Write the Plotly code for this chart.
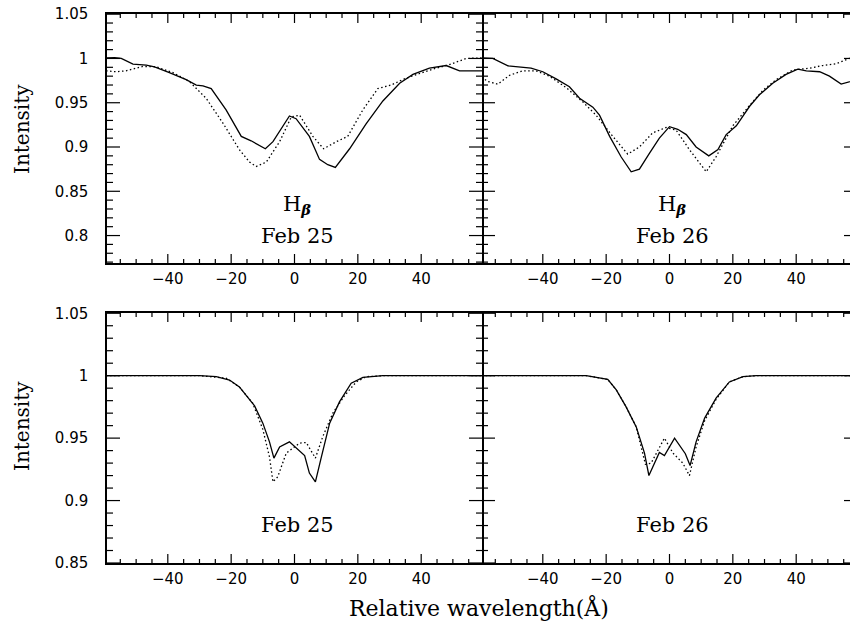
import numpy as np
import plotly.graph_objects as go

# ---------------- data ----------------
# Top-left: H-beta, Feb 25
hb25_solid_x = [-59.5, -56.8, -54.7, -51, -46.8, -44.2, -39.5, -34.2, -31, -28.9, -26.3, -21.6, -16.8,
                -13.7, -9.2, -6.8, -1.6, 0.5, 4.7, 7.9, 10.5, 12.9, 17.4, 22.6, 27.9, 33.2, 37.4, 39.5,
                42.6, 47.9, 52.1, 56.3, 59.5]
hb25_solid_y = [1.0007, 1.001, 1.0, 0.9936, 0.9925, 0.9906, 0.984, 0.976, 0.970, 0.969, 0.966, 0.942, 0.912,
                0.907, 0.898, 0.906, 0.935, 0.932, 0.912, 0.886, 0.880, 0.877, 0.898, 0.926, 0.952, 0.972,
                0.982, 0.985, 0.989, 0.992, 0.986, 0.986, 0.986]
hb25_dot_x = [-59.5, -56.3, -53.2, -47.9, -43.7, -38.4, -33.2, -27.9, -22.6, -17.4, -14.2, -12.1, -8.9,
              -4.7, -1.0, 1.6, 5.8, 9.2, 13.2, 16.8, 21.6, 26.3, 30.5, 34.7, 39.5, 43.7, 48.9, 54.2, 59.5]
hb25_dot_y = [0.986, 0.985, 0.986, 0.991, 0.9906, 0.984, 0.974, 0.955, 0.927, 0.897, 0.883, 0.878, 0.883,
              0.906, 0.934, 0.936, 0.912, 0.898, 0.906, 0.912, 0.942, 0.966, 0.970, 0.977, 0.983, 0.988,
              0.993, 1.0, 1.0007]

# Top-right: H-beta, Feb 26
hb26_solid_x = [-59.3, -55.8, -51, -47.4, -43.7, -40, -35.8, -31.6, -28.4, -24.2, -22.1, -18.9, -15.3,
                -12.1, -9.5, -6.3, -3.2, 0, 2.6, 5.3, 8.4, 12.4, 15.3, 17.9, 21.1, 25.3, 28.4, 32.6, 36.8,
                40.5, 43.2, 47.4, 50.5, 54.2, 56.8, 59]
hb26_solid_y = [1.0007, 1.0, 0.9917, 0.9906, 0.989, 0.985, 0.977, 0.968, 0.955, 0.945, 0.936, 0.912, 0.889,
                0.872, 0.875, 0.893, 0.910, 0.923, 0.920, 0.914, 0.900, 0.890, 0.897, 0.914, 0.924, 0.946,
                0.959, 0.972, 0.982, 0.988, 0.986, 0.985, 0.980, 0.971, 0.974, 0.976]
hb26_dot_x = [-59.3, -57.4, -54.2, -50.5, -46.3, -42.1, -37.9, -32.6, -27.4, -23.2, -17.9, -13.2, -9.5,
              -5.3, -1.1, 2.1, 6.3, 11.6, 14.7, 20, 25.3, 29.5, 33.7, 38.9, 44.2, 48.4, 52.6, 56.8, 59]
hb26_dot_y = [0.979, 0.974, 0.971, 0.981, 0.986, 0.986, 0.980, 0.967, 0.951, 0.936, 0.912, 0.892, 0.900,
              0.916, 0.922, 0.919, 0.897, 0.872, 0.889, 0.924, 0.947, 0.964, 0.976, 0.987, 0.989, 0.992,
              0.994, 1.0, 1.0]

# Bottom-left: Feb 25
l25_solid_x = [-59.5, -30, -24.7, -20.5, -17.4, -14.2, -12.6, -10, -7.9, -6.5, -4.7, -1.6, 3.2, 4.7, 6.6,
               8.4, 11.1, 14.2, 17.9, 21.6, 27.9, 59.5]
l25_solid_y = [1.0, 1.0, 0.9992, 0.9965, 0.991, 0.9806, 0.9758, 0.962, 0.947, 0.934, 0.943, 0.947, 0.936,
               0.922, 0.915, 0.934, 0.962, 0.979, 0.994, 0.9987, 1.0, 1.0]
l25_dot_x = [-59.5, -30, -21.6, -17.4, -13.2, -10, -7.9, -6.8, -5.3, -2.6, 1.6, 3.7, 6.6, 8.9, 12.1, 15.8,
             19.5, 22.6, 27.9, 59.5]
l25_dot_y = [1.0, 1.0, 0.998, 0.991, 0.978, 0.957, 0.935, 0.915, 0.919, 0.938, 0.946, 0.9465, 0.934, 0.951,
             0.970, 0.984, 0.995, 0.9992, 1.0, 1.0]

# Bottom-right: Feb 26
l26_solid_x = [-59.3, -26.3, -19.5, -16.8, -13.7, -10.5, -7.9, -6.5, -3.2, -1.6, 1.6, 3.7, 5.0, 6.5, 8.4,
               11.1, 14.7, 18.9, 23.2, 27.4, 59]
l26_solid_y = [1.0, 1.0, 0.997, 0.9886, 0.975, 0.959, 0.938, 0.920, 0.9386, 0.936, 0.950, 0.942, 0.9375,
               0.928, 0.947, 0.966, 0.982, 0.995, 0.9992, 1.0, 1.0]
l26_dot_x = [-59.3, -26.3, -19.5, -16.8, -13.7, -10.5, -7.6, -5.8, -1.6, 1.1, 4.2, 6.3, 8.4, 11.1, 14.7,
             18.9, 23.2, 27.4, 59]
l26_dot_y = [1.0, 1.0, 0.997, 0.9886, 0.975, 0.959, 0.929, 0.930, 0.950, 0.938, 0.930, 0.920, 0.943, 0.964,
             0.981, 0.995, 0.9992, 1.0, 1.0]

x_tickvals = [-40, -20, 0, 20, 40]
top_y_tickvals = [0.8, 0.85, 0.9, 0.95, 1.0, 1.05]
top_y_ticktext = ["0.8", "0.85", "0.9", "0.95", "1", "1.05"]
bot_y_tickvals = [0.85, 0.9, 0.95, 1.0, 1.05]
bot_y_ticktext = ["0.85", "0.9", "0.95", "1", "1.05"]

hbeta = "H<sub><b><i>β</i></b></sub>"
panel_labels = [[hbeta, "Feb 25"], [hbeta, "Feb 26"], ["Feb 25"], ["Feb 26"]]
x_title = "Relative wavelength(Å)"
y_title = "Intensity"

# ---------------- figure ----------------
W, H = 850, 631
fig = go.Figure()

def add(xs, ys, xa, ya, dotted):
    fig.add_trace(go.Scatter(x=xs, y=ys, xaxis=xa, yaxis=ya, mode="lines",
                             line=dict(color="black", width=1.3,
                                       dash="1.5px,2.5px" if dotted else "solid"),
                             showlegend=False))

add(l25_dot_x, l25_dot_y, "x", "y", True)
add(l25_solid_x, l25_solid_y, "x", "y", False)
add(l26_dot_x, l26_dot_y, "x2", "y2", True)
add(l26_solid_x, l26_solid_y, "x2", "y2", False)
add(hb25_dot_x, hb25_dot_y, "x3", "y3", True)
add(hb25_solid_x, hb25_solid_y, "x3", "y3", False)
add(hb26_dot_x, hb26_dot_y, "x4", "y4", True)
add(hb26_solid_x, hb26_solid_y, "x4", "y4", False)

# panel geometry (pixels)
LEFT, MID, RIGHT_BORDER = 107, 482, 857
TOP_T, TOP_B, BOT_T, BOT_B = 14, 263, 313, 563
xl = [LEFT / W, MID / W]
xr = [MID / W, 1.0]
yt = [1 - TOP_B / H, 1 - TOP_T / H]
yb = [1 - BOT_B / H, 1 - BOT_T / H]

XL = [-59.2, 59.2]
scale = (MID - LEFT) / (XL[1] - XL[0])
XR = [-59.2, -59.2 + (W - MID) / scale]
YT = [0.769, 1.0502]
YB = [0.85, 1.0502]

tickfont = dict(family="DejaVu Sans", size=15, color="black")

def xax(domain, rng, anchor):
    return dict(domain=domain, range=rng, anchor=anchor, showline=True, linecolor="black", linewidth=1.5,
                mirror=True, ticks="", tickmode="array", tickvals=x_tickvals, tickfont=tickfont,
                ticklabelstandoff=1, showgrid=False, zeroline=False, automargin=False)

def yax(domain, rng, anchor, vals, text, left_panel):
    return dict(domain=domain, range=rng, anchor=anchor, showline=left_panel, linecolor="black",
                linewidth=1.5, mirror=left_panel, ticks="", tickmode="array", tickvals=vals, ticktext=text,
                showticklabels=left_panel, tickfont=tickfont, ticklabelstandoff=14,
                showgrid=False, zeroline=False, automargin=False)

# tick marks drawn as thin lines pinned to the panel frames
shapes = []
tick_line = dict(color="black", width=1.2)

def x_ticks(xa, ya, rng, h_px):
    for v in np.arange(-55, 56, 5):
        if not (rng[0] < v < rng[1]):
            continue
        ln = 9 if v % 20 == 0 else 4
        f = ln / h_px
        for y0, y1 in [(0, f), (1 - f, 1)]:
            shapes.append(dict(type="line", xref=xa, yref=ya + " domain", x0=v, x1=v, y0=y0, y1=y1,
                               line=tick_line, layer="above"))

def y_ticks(xa, ya, rng, w_px, sides):
    for k in range(int(np.ceil(rng[0] * 100)), int(np.floor(rng[1] * 100)) + 1):
        v = k / 100
        ln = 13 if k % 5 == 0 else 6
        for pos in sides:  # pos = domain x of the frame line the tick hangs from
            if pos < 0.5:
                x0, x1 = pos, pos + ln / w_px
            else:
                x0, x1 = pos - ln / w_px, pos
            shapes.append(dict(type="line", xref=xa + " domain", yref=ya, x0=x0, x1=x1, y0=v, y1=v,
                               line=tick_line, layer="above"))

wl = MID - LEFT
wr = W - MID
right_edge = (RIGHT_BORDER - MID) / wr
x_ticks("x3", "y3", XL, TOP_B - TOP_T)
x_ticks("x4", "y4", XR, TOP_B - TOP_T)
x_ticks("x", "y", XL, BOT_B - BOT_T)
x_ticks("x2", "y2", XR, BOT_B - BOT_T)
y_ticks("x3", "y3", YT, wl, [0, 1])
y_ticks("x4", "y4", YT, wr, [0, right_edge])
y_ticks("x", "y", YB, wl, [0, 1])
y_ticks("x2", "y2", YB, wr, [0, right_edge])

# text
label_pos = [(297, [205, 236]), (672, [205, 236]), (297, [525]), (672, [525])]
annotations = []
for texts, (px, pys) in zip(panel_labels, label_pos):
    for txt, py in zip(texts, pys):
        annotations.append(dict(x=px / W, y=1 - py / H, xref="paper", yref="paper", text=txt,
                                showarrow=False, xanchor="center", yanchor="middle",
                                font=dict(family="DejaVu Serif", size=21, color="black")))
annotations.append(dict(x=479 / W, y=1 - 607 / H, xref="paper", yref="paper", text=x_title, showarrow=False,
                        xanchor="center", yanchor="middle",
                        font=dict(family="DejaVu Serif", size=22, color="black")))
for yc in [129, 426]:
    annotations.append(dict(x=22 / W, y=1 - yc / H, xref="paper", yref="paper", text=y_title,
                            showarrow=False, textangle=-90, xanchor="center", yanchor="middle",
                            font=dict(family="DejaVu Serif", size=20, color="black")))

fig.update_layout(
    width=W, height=H, margin=dict(l=0, r=0, t=0, b=0), plot_bgcolor="white", paper_bgcolor="white",
    xaxis=xax(xl, XL, "y"), yaxis=yax(yb, YB, "x", bot_y_tickvals, bot_y_ticktext, True),
    xaxis2=xax(xr, XR, "y2"), yaxis2=yax(yb, YB, "x2", bot_y_tickvals, bot_y_ticktext, False),
    xaxis3=xax(xl, XL, "y3"), yaxis3=yax(yt, YT, "x3", top_y_tickvals, top_y_ticktext, True),
    xaxis4=xax(xr, XR, "y4"), yaxis4=yax(yt, YT, "x4", top_y_tickvals, top_y_ticktext, False),
    annotations=annotations, shapes=shapes,
)

fig.write_html("out.html")
